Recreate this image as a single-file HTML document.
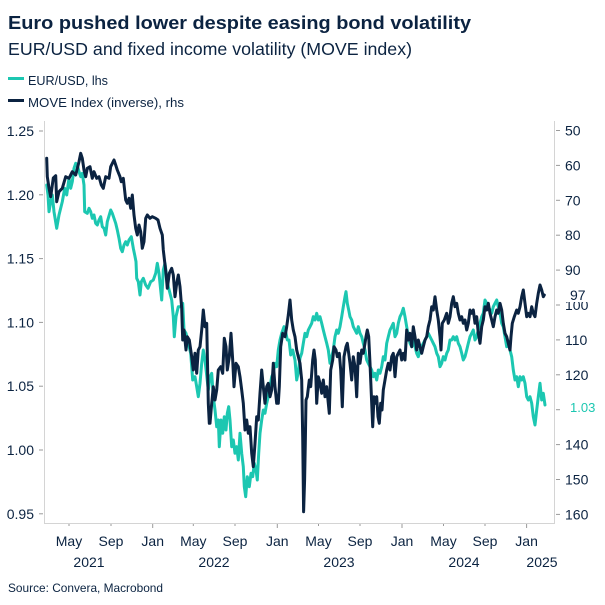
<!DOCTYPE html>
<html><head><meta charset="utf-8"><style>
html,body{margin:0;padding:0;background:#fff;}
svg{display:block;font-family:"Liberation Sans",sans-serif;}
</style></head><body>
<svg width="605" height="605" viewBox="0 0 605 605" xmlns="http://www.w3.org/2000/svg">
<rect width="605" height="605" fill="#fff"/>
<text x="8" y="29" font-size="18.5" font-weight="bold" fill="#0b2341" textLength="463" lengthAdjust="spacingAndGlyphs">Euro pushed lower despite easing bond volatility</text>
<text x="8" y="55" font-size="17.5" fill="#0b2341" textLength="404" lengthAdjust="spacingAndGlyphs">EUR/USD and fixed income volatility (MOVE index)</text>
<rect x="8" y="77" width="16" height="3" fill="#1cc7b1"/>
<text x="28" y="85" font-size="13" fill="#0b2341" textLength="80" lengthAdjust="spacingAndGlyphs">EUR/USD, lhs</text>
<rect x="8" y="99" width="16" height="3" fill="#0b2341"/>
<text x="28" y="107" font-size="13" fill="#0b2341" textLength="156" lengthAdjust="spacingAndGlyphs">MOVE Index (inverse), rhs</text>

<g stroke="#d4d4d4" stroke-width="1" fill="none">
<line x1="44.5" y1="121" x2="44.5" y2="523.5"/>
<line x1="554.5" y1="121" x2="554.5" y2="523.5"/>
<line x1="44" y1="523.5" x2="555" y2="523.5"/>
</g>
<g stroke="#9a9a9a" stroke-width="1">
<line x1="39" y1="131" x2="43" y2="131"/>
<line x1="39" y1="194.8" x2="43" y2="194.8"/>
<line x1="39" y1="258.6" x2="43" y2="258.6"/>
<line x1="39" y1="322.4" x2="43" y2="322.4"/>
<line x1="39" y1="386.2" x2="43" y2="386.2"/>
<line x1="39" y1="450" x2="43" y2="450"/>
<line x1="39" y1="513.8" x2="43" y2="513.8"/>
<line x1="556" y1="130.5" x2="560" y2="130.5"/>
<line x1="556" y1="165.4" x2="560" y2="165.4"/>
<line x1="556" y1="200.3" x2="560" y2="200.3"/>
<line x1="556" y1="235.2" x2="560" y2="235.2"/>
<line x1="556" y1="270.1" x2="560" y2="270.1"/>
<line x1="556" y1="305" x2="560" y2="305"/>
<line x1="556" y1="339.9" x2="560" y2="339.9"/>
<line x1="556" y1="374.8" x2="560" y2="374.8"/>
<line x1="556" y1="409.7" x2="560" y2="409.7"/>
<line x1="556" y1="444.6" x2="560" y2="444.6"/>
<line x1="556" y1="479.5" x2="560" y2="479.5"/>
<line x1="556" y1="514.4" x2="560" y2="514.4"/>
<line x1="69" y1="524" x2="69" y2="526"/>
<line x1="111" y1="524" x2="111" y2="526"/>
<line x1="152.7" y1="524" x2="152.7" y2="528"/>
<line x1="193.3" y1="524" x2="193.3" y2="526"/>
<line x1="235" y1="524" x2="235" y2="526"/>
<line x1="277.3" y1="524" x2="277.3" y2="528"/>
<line x1="318.5" y1="524" x2="318.5" y2="526"/>
<line x1="360" y1="524" x2="360" y2="526"/>
<line x1="402" y1="524" x2="402" y2="528"/>
<line x1="443.5" y1="524" x2="443.5" y2="526"/>
<line x1="485" y1="524" x2="485" y2="526"/>
<line x1="526.6" y1="524" x2="526.6" y2="528"/>
</g>
<g font-size="14" fill="#0b2341" text-anchor="end">
<text x="34" y="136">1.25</text>
<text x="34" y="199.8">1.20</text>
<text x="34" y="263.6">1.15</text>
<text x="34" y="327.4">1.10</text>
<text x="34" y="391.2">1.05</text>
<text x="34" y="455">1.00</text>
<text x="34" y="518.8">0.95</text>
</g>
<g font-size="14" fill="#0b2341">
<text x="565" y="135.5">50</text>
<text x="565" y="170.4">60</text>
<text x="565" y="205.3">70</text>
<text x="565" y="240.2">80</text>
<text x="565" y="275.1">90</text>
<text x="565" y="310">100</text>
<text x="565" y="344.9">110</text>
<text x="565" y="379.8">120</text>
<text x="565" y="414.7">130</text>
<text x="565" y="449.6">140</text>
<text x="565" y="484.5">150</text>
<text x="565" y="519.4">160</text>
</g>
<g font-size="14" fill="#0b2341" text-anchor="middle">
<text x="69" y="546">May</text>
<text x="111" y="546">Sep</text>
<text x="152.7" y="546">Jan</text>
<text x="193.3" y="546">May</text>
<text x="235" y="546">Sep</text>
<text x="277.3" y="546">Jan</text>
<text x="318.5" y="546">May</text>
<text x="360" y="546">Sep</text>
<text x="402" y="546">Jan</text>
<text x="443.5" y="546">May</text>
<text x="485" y="546">Sep</text>
<text x="526.6" y="546">Jan</text>
<text x="89" y="567">2021</text>
<text x="214" y="567">2022</text>
<text x="339" y="567">2023</text>
<text x="464" y="567">2024</text>
<text x="542" y="567">2025</text>
</g>
<text x="8" y="592" font-size="12" fill="#0b2341" textLength="155" lengthAdjust="spacingAndGlyphs">Source: Convera, Macrobond</text>

<polyline fill="none" stroke="#1cc7b1" stroke-width="3" stroke-linejoin="round" stroke-linecap="round" points="46.7,185 48,195 49,211.7 50.7,201.7 52.3,195 54,211.7 56.7,228.3 59,215 62.3,201.7 64.7,188.3 66.7,195 69,178.3 70.7,188.3 72.3,181.7 74,168.3 75.7,163.3 77.3,165 79,171.7 80.7,176.7 82.3,173.3 84,185 84.7,211.7 87.3,213.3 89,208.3 90.7,211.7 92.3,218.3 94,215 95.7,223.3 97.3,225 99,220 100.7,216.7 102.3,226.7 104,228.3 105.7,235 107.3,221.7 110.7,210 112.3,213.3 114,218.3 115.7,223.3 117.3,230 119,238.3 120.7,248.3 122.3,251.7 124,245 125.7,241.7 127.3,245 129,240 131.3,236.7 133.3,248.3 134.7,255 136,261.7 136.7,278.3 138.3,281.7 140,295 141.3,281.7 143.3,278.3 145.7,285 148,288.3 150.7,281.7 153.3,280 155.7,273.3 157.3,263.3 159,273.3 160,283.3 161.7,300 163.3,270 165,263.3 166.7,276.7 168.3,286.7 171.7,300 173.3,316.7 174.3,336.7 176,316.7 178.3,306.7 180.7,306.7 182.7,303.3 184,330 186,333.3 188.3,343.3 190.7,353.3 192.7,380 195,376.7 196.7,386.7 198.3,396.7 200,383.3 201.7,363.3 203.3,350 205,360 208.3,390 210,376.7 211.7,373.3 213.3,396.7 215,410 216.7,426.7 218.3,420 219.3,446.7 221,420 222.7,433.3 224.3,416.7 226,430 227.3,413.3 228.7,406.7 230,420 231.7,446.7 233.3,440 235,453.3 236.7,446.7 238.3,460 240,433.3 241.7,453.3 243.3,466.7 244.3,486.7 245.7,496.7 247.3,476.7 249.3,486.7 251,473.3 252.7,476.7 254.3,463.3 256,470 257.3,480 258.7,453.3 260,433.3 261.7,420 263.3,410 265,413.3 266.7,403.3 268.3,396.7 270,386.7 271.7,376.7 273.3,373.3 275,363.3 276.7,366.7 278.3,350 280,340 281.7,333.3 284,326.7 286,333.3 287.3,340 289,340 290.7,355 292.7,350 295,360 296.7,380 298.3,372 300,358 301.7,353.3 303.3,343.3 305,333.3 306.7,336.7 308.3,330 310,326.7 311.7,323.3 313.3,316.7 315,320 316.7,313.3 318.3,320 320,316.7 321.7,323.3 323.3,330 325,336.7 326.7,343.3 328.3,350 330,363.3 331.7,356.7 333.3,350 335,336.7 336.7,330 338.3,333.3 340,326.7 341.7,316.7 343.3,306.7 345,296.7 346,291.7 347.3,303.3 348.7,310 350,316.7 351.7,320 353.3,326.7 355,330 356.7,333.3 358.3,326.7 360,333.3 361.7,336.7 363.3,343.3 365,350 366.7,360 368.3,363.3 370,366.7 371.7,370 373.3,376.7 375,373.3 376.7,380 378.3,370 380,373.3 381.7,366.7 383.3,356.7 385,360 386.7,343.3 388.3,336.7 390,330 391.7,326.7 393.3,323.3 395,336.7 396.7,333.3 398.3,323.3 400,316.7 401.7,313.3 403.3,308.3 405,316.7 406.7,326.7 408.3,336.7 410,343.3 411.7,346.7 413.3,340 415,346.7 416.7,353.3 418.3,356.7 420,350 421.7,346.7 423.3,343.3 425,340 426.7,336.7 428.3,333.3 430,336.7 431.7,340 433.3,343.3 435,346.7 436.7,353.3 438.3,356.7 440,366.7 441.7,363.3 443.3,356.7 445,360 446.7,353.3 448.3,350 450,340 451.7,340 453.3,336.7 455,340 456.7,336.7 458.3,343.3 460,346.7 461.7,353.3 463.3,360 465,356.7 466.7,350 468.3,343.3 470,336.7 471.7,333.3 473.3,330 475,340 476.7,336.7 478.3,330 480,323.3 481.7,316.7 483.3,313.3 485,300 486.7,303.3 488.3,306.7 490,310 491.7,313.3 493.3,306.7 495,303.3 496.7,300 498.3,306.7 500,313.3 501.7,323.3 503.3,326.7 505,336.7 506.7,346.7 508.3,343.3 510,350 511.7,356.7 513.3,370 515,380 516.7,376.7 518.3,386.7 520,376.7 521.7,380 523.3,376.7 525,383.3 526.7,396.7 528.3,400 530,396.7 531.7,403.3 533.3,416.7 535,425 536.7,410 538.3,396.7 540,383.3 541.7,400 543.3,393.3 545,405"/>

<polyline fill="none" stroke="#0b2341" stroke-width="3" stroke-linejoin="round" stroke-linecap="round" points="46.7,158.3 47.3,176.7 49,188 50.7,196.7 53.3,178 55.7,175.7 56.7,201.7 59,191.7 62.3,188.3 65.7,176.7 69,178.3 72.3,171.7 75.7,175 79,161.7 80.7,153.3 82.3,158.3 84,170 85.7,176.7 87.3,168.3 90,166.7 92.3,178.3 94,171.7 96.7,178.3 99,176.7 101.3,185 103.3,188.3 105.7,176.7 109,178.3 110.7,166.7 114,160 115.7,165 117.3,170 120,176.7 121.3,181.7 123.3,178.3 125.7,200 127.3,203.3 129,198.3 130.7,208.3 132.3,195 134,215 135.7,228.3 137.3,235 139,225 140.7,231.7 142.3,248.3 144,241.7 145.7,218.3 147.3,215 150,218.3 152.3,216.7 155.7,218.3 158,220 160,228.3 162.3,235 163.3,250 166,273.3 167.3,288.3 169.3,273.3 171.7,268.3 173.3,275 175,296.7 176.7,283.3 178.3,275 180,286.7 181.7,308.3 182.7,340 184,330 186,350 187.3,336.7 189.3,340 191.7,356.7 193.3,370 195,353.3 196.7,373.3 198.3,350 200,346.7 201.7,330 203.3,310 205,326.7 206.7,323.3 208.3,403.3 209.3,423.3 210,423.3 211.7,403.3 213.3,386.7 215,400 216.7,390 218.3,370 220.7,366.7 222.7,373.3 224.3,338.3 226,346.7 227.3,370 229.3,356.7 231,333.3 232.7,360 234,386.7 236,363.3 238.3,366.7 240,376.7 241.7,390 243.3,403.3 245,430 246.7,420 248.3,433.3 250,426.7 251.7,453.3 253.3,466.7 255,443.3 256.7,416.7 258.3,420 260,393.3 261.7,370 263.3,386.7 265,403.3 266.7,386.7 268.3,383.3 270,396.7 271.7,390 273.3,363.3 275,386.7 276.7,403.3 278.3,403.3 279.3,386.7 280.7,346.7 282.7,333.3 285,336.7 286.7,326.7 288.3,315 290,300 291.7,320 293.3,330 295,336.7 296.7,350 298.3,356.7 300,363.3 301.7,380 302.7,436.7 303.6,511.7 304.6,480 305.3,443.3 306,400 307.3,396.7 309.3,380 310.7,386.7 312.7,360 314,350 315.3,360 316.7,403.3 318.3,376.7 320,383.3 321.7,393.3 323.3,380 325,396.7 326.7,386.7 328.3,403.3 329.3,413.3 330.7,370 332.7,360 334,346.7 336,350 337.3,356.7 339.3,353.3 340.7,370 342.3,406.7 344,356.7 346,346.7 347.3,343.3 348.7,353.3 350,363.3 351.7,380 353.3,356.7 355,366.7 356.7,396.7 358.3,353.3 360,363.3 361.7,350 363.3,353.3 365,343.3 366,336.7 367.3,330 368.7,336.7 370,363.3 371.7,403.3 372.7,426.7 374,396.7 375.3,403.3 376.7,396.7 378,416.7 379.3,423.3 380.7,403.3 382,410 383.3,390 385,380 386.7,370 388.3,363.3 390,370 391.7,356.7 393.3,353.3 395,376.7 396.7,356.7 398.3,353.3 400,350 401.7,360 403.3,353.3 405,360 406.7,330 408.3,340 410,333.3 411.7,346.7 413.3,326.7 415,336.7 416.7,350 418.3,340 420,346.7 421.7,353.3 423.3,346.7 425,340 426.7,336.7 428.3,326.7 430,320 431.7,306.7 433.3,310 435,296.7 436.7,310 438.3,320 440,336.7 441,350 442.3,323.3 444.3,320 446.7,313.3 448.3,323.3 450,316.7 451.7,303.3 453.3,296.7 455,306.7 456.7,303.3 458.3,313.3 460,320 461.7,316.7 463.3,323.3 465,320 466.7,330 468.3,323.3 470,310 471.7,313.3 473.3,310 475,323.3 476.7,316.7 478.3,333.3 480,343.3 481.7,326.7 483.3,320 485,306.7 486.7,310 488.3,303.3 490,313.3 491.7,320 493.3,326.7 495,316.7 496.7,310 498.3,313.3 500,303.3 501.7,310 503.3,323.3 505,333.3 506.7,336.7 508.3,343.3 510,350 511,336.7 512.3,323.3 514.3,316.7 516.7,310 518.3,313.3 520,306.7 521.7,296.7 523.3,290 525,303.3 526.7,316.7 528.3,313.3 530,316.7 531.7,306.7 533.3,313.3 535,316.7 536.7,303.3 538.3,293.3 540,285 541.7,290 543.3,296.7 544.3,295"/>

<rect x="566" y="285" width="22" height="17" fill="#fff"/>
<text x="570" y="300" font-size="14" fill="#0b2341">97</text>
<rect x="566" y="399" width="34" height="17" fill="#fff"/>
<text x="570" y="412" font-size="13" fill="#1cc7b1">1.03</text>
</svg>
</body></html>
